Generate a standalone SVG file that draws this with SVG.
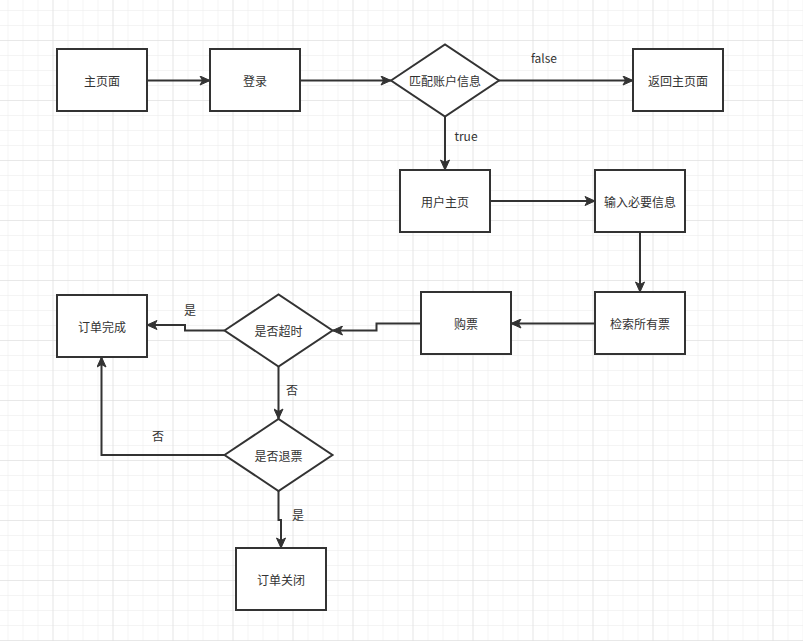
<svg xmlns="http://www.w3.org/2000/svg" width="803" height="641" viewBox="0 0 803 641">
<style>
.node rect,.node polygon{fill:#fff;stroke:#333;stroke-width:2}
.node text,.lbl{font-family:"Noto Sans CJK SC","Liberation Sans",sans-serif;font-size:12px;fill:#333;text-anchor:middle;dominant-baseline:central}
.edges path{fill:none;stroke:#333;stroke-width:2;marker-end:url(#arr)}
</style>
<defs>
<pattern id="minor" x="7.5" y="10" width="15" height="15" patternUnits="userSpaceOnUse">
<path d="M0,0 V15 M0,0 H15" fill="none" stroke="#e9e9e9" stroke-width="1"/>
</pattern>
<pattern id="major" x="52.5" y="40" width="60" height="60" patternUnits="userSpaceOnUse">
<path d="M0,0 V60 M0,0 H60" fill="none" stroke="#dcdcdc" stroke-width="1"/>
</pattern>
<marker id="arr" markerUnits="userSpaceOnUse" markerWidth="12" markerHeight="10" refX="11" refY="5" orient="auto">
<path d="M1,0.5 L11,5 L1,9.5 L3.5,5 Z" fill="#333" stroke="#333" stroke-width="1"/>
</marker>
</defs>
<rect width="803" height="641" fill="#fff"/>
<rect width="803" height="641" fill="url(#minor)"/>
<rect width="803" height="641" fill="url(#major)"/>
<g class="edges">
<path d="M147,80.5 H210"/>
<path d="M300,80.5 H391"/>
<path d="M498,80.5 H633"/>
<path d="M445,117 V170"/>
<path d="M490,201 H595"/>
<path d="M640,232 V292"/>
<path d="M595,323.5 H511"/>
<path d="M421,323.5 H376.5 V330.5 H332.5"/>
<path d="M224.5,330.5 H185 V325 H147"/>
<path d="M278.5,366.5 V419"/>
<path d="M224.5,455 H101.5 V357"/>
<path d="M278.5,491 V520 H281 V548"/>
</g>
<g class="edge-labels">
<text class="lbl" x="544" y="57">false</text>
<text class="lbl" x="466" y="135">true</text>
<text class="lbl" x="190" y="309">是</text>
<text class="lbl" x="292" y="389">否</text>
<text class="lbl" x="158" y="435">否</text>
<text class="lbl" x="298" y="514">是</text>
</g>
<g id="n-home" class="node"><rect x="57" y="49" width="90" height="62"/><text x="102" y="80.5">主页面</text></g>
<g id="n-login" class="node"><rect x="210" y="49" width="90" height="62"/><text x="255" y="80.5">登录</text></g>
<g id="n-match" class="node"><polygon points="391,80.5 445,44.5 499,80.5 445,116.5"/><text x="445" y="80.5">匹配账户信息</text></g>
<g id="n-back" class="node"><rect x="633" y="49" width="90" height="62"/><text x="678" y="80.5">返回主页面</text></g>
<g id="n-user" class="node"><rect x="400" y="170" width="90" height="62"/><text x="445" y="201">用户主页</text></g>
<g id="n-input" class="node"><rect x="595" y="170" width="90" height="62"/><text x="640" y="201">输入必要信息</text></g>
<g id="n-search" class="node"><rect x="595" y="292" width="90" height="62"/><text x="640" y="323.5">检索所有票</text></g>
<g id="n-buy" class="node"><rect x="421" y="292" width="90" height="62"/><text x="466" y="323.5">购票</text></g>
<g id="n-timeout" class="node"><polygon points="224.5,330.5 278.5,294.5 332.5,330.5 278.5,366.5"/><text x="278.5" y="330.5">是否超时</text></g>
<g id="n-done" class="node"><rect x="57" y="295" width="90" height="62"/><text x="102" y="326">订单完成</text></g>
<g id="n-refund" class="node"><polygon points="224.5,455 278.5,419 332.5,455 278.5,491"/><text x="278.5" y="455">是否退票</text></g>
<g id="n-close" class="node"><rect x="236" y="548" width="90" height="62"/><text x="281" y="579">订单关闭</text></g>
</svg>
